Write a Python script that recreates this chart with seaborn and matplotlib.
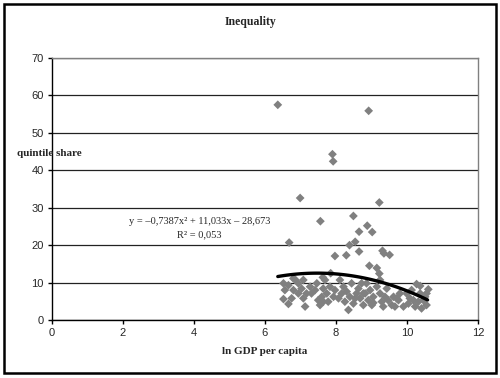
import numpy as np
import pandas as pd
import matplotlib
matplotlib.use("Agg")
import matplotlib.pyplot as plt
import seaborn as sns
from matplotlib.patches import Rectangle

# ln GDP per capita and quintile share
ln_gdp = [
    6.36, 8.92, 7.90, 7.92, 6.99, 9.22, 8.49, 7.56, 8.88, 9.02, 8.65, 6.68,
    8.54, 8.38, 8.65, 7.97, 8.29, 9.31, 9.51, 9.35, 8.94, 9.15, 9.22, 7.63,
    7.85, 6.80,
    6.52, 6.56, 6.52, 6.66, 6.75, 6.80, 6.85, 6.94, 7.03, 7.08, 7.13, 7.27,
    7.31, 7.41, 7.50, 7.55, 7.60, 7.64, 7.69, 7.74, 7.78, 7.83, 7.97, 8.07,
    8.16, 8.21, 8.25, 8.35, 8.39, 8.44, 8.49, 8.58, 8.63, 8.68, 8.77, 8.82,
    8.86, 8.91, 8.96, 9.01, 9.05, 9.15, 9.24, 9.29, 9.38, 9.43, 9.47, 9.57,
    9.66, 9.76, 9.90, 9.99, 10.08, 10.13, 10.23, 10.27, 10.32, 10.37, 10.41,
    10.46, 10.51, 10.55, 10.60, 10.37, 10.04, 9.62, 9.24, 6.94, 7.17, 7.46,
    7.93, 8.30, 8.54, 8.72, 9.05, 9.80, 10.18, 10.55, 6.66, 7.08, 7.64, 8.11,
    8.77, 9.33, 9.71,
]
quintile_share = [
    57.5, 55.9, 44.3, 42.4, 32.6, 31.4, 27.8, 26.4, 25.2, 23.5, 23.6, 20.7,
    20.9, 20.0, 18.3, 17.1, 17.3, 18.5, 17.4, 17.8, 14.5, 13.9, 12.4, 11.4,
    12.5, 11.1,
    9.8, 8.0, 5.6, 4.3, 5.8, 8.0, 10.8, 7.1, 8.4, 5.8, 3.6, 8.9, 7.1, 8.0,
    5.3, 4.0, 6.2, 8.4, 10.7, 7.1, 4.9, 8.9, 8.0, 5.8, 7.1, 8.9, 4.9, 2.7,
    6.2, 9.8, 4.4, 7.1, 8.4, 5.8, 4.0, 7.1, 9.8, 5.3, 8.0, 4.0, 6.2, 8.9,
    7.1, 4.9, 6.2, 8.4, 5.3, 4.0, 3.6, 5.3, 3.6, 7.1, 5.8, 8.0, 3.6, 9.6,
    4.9, 7.1, 3.1, 5.3, 6.2, 4.0, 8.2, 9.1, 4.4, 6.2, 10.7, 9.8, 7.1, 9.8,
    6.2, 7.6, 5.8, 9.8, 4.6, 7.1, 5.3, 7.1, 9.3, 10.7, 4.9, 10.7, 7.1, 3.6,
    5.8,
]

# trendline shown on the chart (2nd order polynomial)
trend_coef = [-0.7387, 11.033, -28.673]
trend_label = "y = \u20130,7387x\u00b2 + 11,033x \u2013 28,673"
r2_label = "R\u00b2 = 0,053"

df = pd.DataFrame({"ln_gdp": ln_gdp, "share": quintile_share})

sns.set_style("white")
plt.rcParams["font.family"] = ["Liberation Sans", "DejaVu Sans"]

fig = plt.figure(figsize=(5, 3.78), dpi=100)
ax = fig.add_axes([0.104, 0.1534, 0.852, 0.6931])

sns.scatterplot(data=df, x="ln_gdp", y="share", marker="D", s=20,
                color="#808080", edgecolor="none", ax=ax, zorder=3)

xs = np.linspace(6.36, 10.58, 100)
trend = pd.DataFrame({"x": xs, "y": np.polyval(trend_coef, xs)})
sns.lineplot(data=trend, x="x", y="y", color="black", linewidth=2.4, ax=ax, zorder=4)

ax.set_xlim(0, 12)
ax.set_ylim(0, 70)
ax.set_xticks(range(0, 13, 2))
ax.set_yticks(range(0, 71, 10))
ax.yaxis.grid(True, color="#222222", linewidth=0.9)
ax.set_axisbelow(True)
for side in ["top", "right"]:
    ax.spines[side].set_color("#808080")
    ax.spines[side].set_linewidth(1.0)
for side in ["left", "bottom"]:
    ax.spines[side].set_color("black")
    ax.spines[side].set_linewidth(1.0)
ax.tick_params(axis="both", direction="out", length=3, width=1, color="black",
               labelsize=8, pad=3, left=True, bottom=True)
ax.set_xlabel("")
ax.set_ylabel("")

serif = ["Liberation Serif", "DejaVu Serif"]
fig.text(0.5, 1 - 22 / 378, "Inequality", ha="center", va="center",
         fontsize=8.5, fontweight="bold", family=serif)
fig.text(49 / 500, 1 - 154 / 378, "quintile share", ha="center", va="center",
         fontsize=8, fontweight="bold", family=serif)
fig.text(265 / 500, 1 - 352 / 378, "ln GDP per capita", ha="center", va="center",
         fontsize=8, fontweight="bold", family=serif)
fig.text(200 / 500, 1 - 221 / 378, trend_label, ha="center", va="center",
         fontsize=7.5, family=serif)
fig.text(199 / 500, 1 - 235 / 378, r2_label, ha="center", va="center",
         fontsize=7.5, family=serif)

fig.patches.append(Rectangle((4 / 500, 1 - 373 / 378), 492 / 500, 369 / 378,
                             transform=fig.transFigure, fill=False,
                             edgecolor="black", linewidth=1.8))

fig.savefig("out.png", dpi=100)
